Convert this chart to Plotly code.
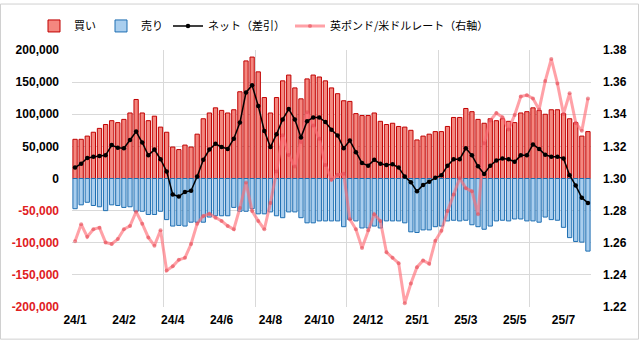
import plotly.graph_objects as go

# ---- data (weekly, 2024/1 - 2025/8) ----
buy = [61, 61, 66, 72, 78, 84, 90, 87, 92, 102, 123, 102, 90, 97, 80, 72, 49, 45, 52, 49, 69, 93, 102,
       110, 106, 102, 107, 135, 183, 189, 166, 126, 102, 126, 152, 161, 141, 124, 155, 161, 158, 152, 141, 132, 121, 120,
       101, 98, 98, 102, 89, 84, 86, 81, 80, 75, 60, 66, 69, 73, 73, 81, 95, 95, 109, 104, 92, 86, 93,
       90, 93, 89, 87, 102, 104, 110, 106, 100, 107, 107, 101, 93, 87, 66, 73]
sell = [-47, -41, -37, -42, -44, -50, -41, -42, -45, -44, -51, -51, -56, -56, -51, -64, -74, -73, -74, -68, -68, -68, -60,
        -58, -58, -58, -45, -51, -51, -47, -55, -55, -52, -58, -61, -52, -52, -61, -69, -69, -66, -66, -66, -66, -75, -64,
        -66, -77, -77, -74, -77, -66, -66, -66, -69, -83, -84, -80, -80, -75, -74, -66, -65, -66, -65, -72, -75, -79, -74,
        -66, -65, -66, -63, -63, -66, -66, -68, -60, -64, -65, -76, -92, -98, -99, -113]
net = [17, 23, 32, 34, 35, 36, 52, 48, 47, 60, 73, 56, 36, 45, 30, 11, -25, -28, -21, -19, 3, 29, 45,
       54, 49, 46, 62, 87, 134, 145, 113, 74, 49, 69, 92, 108, 92, 64, 89, 95, 95, 88, 76, 67, 47, 59,
       41, 24, 20, 29, 23, 21, 22, 17, 3, -6, -20, -10, -5, 1, 5, 20, 30, 30, 47, 36, 19, 7, 20,
       28, 31, 30, 26, 36, 36, 53, 46, 37, 34, 34, 31, 5, -11, -30, -38]
gbp = [1.2610, 1.2715, 1.2637, 1.2684, 1.2694, 1.2602, 1.2592, 1.2623, 1.2684, 1.2705, 1.2793, 1.2719, 1.2633,
       1.2582, 1.2678, 1.2428, 1.2453, 1.2494, 1.2506, 1.2592, 1.2719, 1.2766, 1.2780,
       1.2756, 1.2736, 1.2705, 1.2684, 1.2817, 1.2975, 1.2797, 1.2736, 1.2684, 1.2848, 1.3043, 1.3269, 1.3146,
       1.3074, 1.3228, 1.3412, 1.3330, 1.3248, 1.3084, 1.2992, 1.3023, 1.3030, 1.2746,
       1.2684, 1.2567, 1.2678, 1.2777, 1.2736, 1.2541, 1.2506, 1.2473, 1.2223, 1.2346, 1.2448, 1.2490, 1.2469,
       1.2612, 1.2674, 1.2797, 1.2900, 1.3002, 1.2940, 1.2920, 1.2777, 1.3220, 1.3361,
       1.3408, 1.3381, 1.3305, 1.3396, 1.3510, 1.3519, 1.3498, 1.3429, 1.3607, 1.3744, 1.3592, 1.3402, 1.3531,
       1.3346, 1.3297, 1.3498]

x_labels = ['24/1', '24/2', '24/4', '24/6', '24/8', '24/10', '24/12', '25/1', '25/3', '25/5', '25/7']
label_step = 8
left_ticks = [-200000, -150000, -100000, -50000, 0, 50000, 100000, 150000, 200000]
right_ticks = [1.22, 1.24, 1.26, 1.28, 1.30, 1.32, 1.34, 1.36, 1.38]

x = list(range(len(buy)))
buy_v = [v * 1000 for v in buy]
sell_v = [v * 1000 for v in sell]
net_v = [v * 1000 for v in net]

def fmt_left(v):
    s = f"{v:,}"
    if v < 0:
        return f"<span style='color:#E0201E'>{s}</span>"
    return s

fig = go.Figure()
fig.add_bar(x=x, y=buy_v, name='買い', legendrank=1,
            marker=dict(color='#F4877F', line=dict(color='#C00000', width=1)))
fig.add_bar(x=x, y=sell_v, name='売り', legendrank=2,
            marker=dict(color='#A9CEEE', line=dict(color='#1F6FB2', width=1)))
fig.add_scatter(x=x, y=gbp, yaxis='y2', name='英ポンド/米ドルレート（右軸）', legendrank=4,
                mode='lines+markers',
                line=dict(color='rgba(255,110,120,0.65)', width=3),
                marker=dict(size=4, color='rgba(225,70,80,0.55)'))
fig.add_scatter(x=x, y=net_v, yaxis='y3', name='ネット（差引）', legendrank=3,
                mode='lines+markers',
                line=dict(color='black', width=1.5),
                marker=dict(size=4.5, color='black'))

W, H = 640, 341
L, R, T, B = 72, 49, 47, 34
pw, ph = W - L - R, H - T - B

fig.update_layout(
    width=W, height=H, autosize=False,
    margin=dict(l=L, r=R, t=T, b=B),
    paper_bgcolor='white', plot_bgcolor='white',
    barmode='relative', bargap=0.3,
    font=dict(family='Liberation Sans, Arial, sans-serif', size=12, color='black'),
    legend=dict(orientation='h', x=(34 - L) / pw, xanchor='left', y=1 + (T - 8) / ph, yanchor='top',
                font=dict(family='Noto Sans CJK JP', size=11), itemwidth=30,
                traceorder='normal'),
    xaxis=dict(range=[-0.5, len(buy) - 0.5],
               tickmode='array', tickvals=x[::label_step], ticktext=x_labels,
               showgrid=False, zeroline=False, showline=False, ticks='',
               tickfont=dict(size=12, weight='bold'), ticklabelstandoff=4,
               minor=dict(tickmode='linear', tick0=-0.5, dtick=15, showgrid=True,
                          gridcolor='#D9D9D9', gridwidth=1, ticks='')),
    yaxis=dict(range=[left_ticks[0], left_ticks[-1]], tickmode='array',
               tickvals=left_ticks, ticktext=[fmt_left(v) for v in left_ticks],
               showgrid=True, gridcolor='#D9D9D9', zeroline=False, ticks='',
               tickfont=dict(size=12, weight='bold'), ticklabelstandoff=12),
    yaxis2=dict(overlaying='y', side='right', range=[right_ticks[0], right_ticks[-1]],
                tickmode='array', tickvals=right_ticks, ticktext=[f"{v:.2f}" for v in right_ticks],
                showgrid=False, zeroline=False, ticks='',
                tickfont=dict(size=12, weight='bold'), ticklabelstandoff=11),
    yaxis3=dict(overlaying='y', range=[left_ticks[0], left_ticks[-1]], visible=False),
    shapes=[dict(type='rect', xref='paper', yref='paper', layer='below',
                 x0=(0.5 - L) / pw, x1=(W - 1.5 - L) / pw,
                 y0=-(B - 1.5) / ph, y1=1 + (T - 0.5) / ph,
                 line=dict(color='#D0D0D0', width=1), fillcolor='rgba(0,0,0,0)')],
)

fig.write_html('out.html')
